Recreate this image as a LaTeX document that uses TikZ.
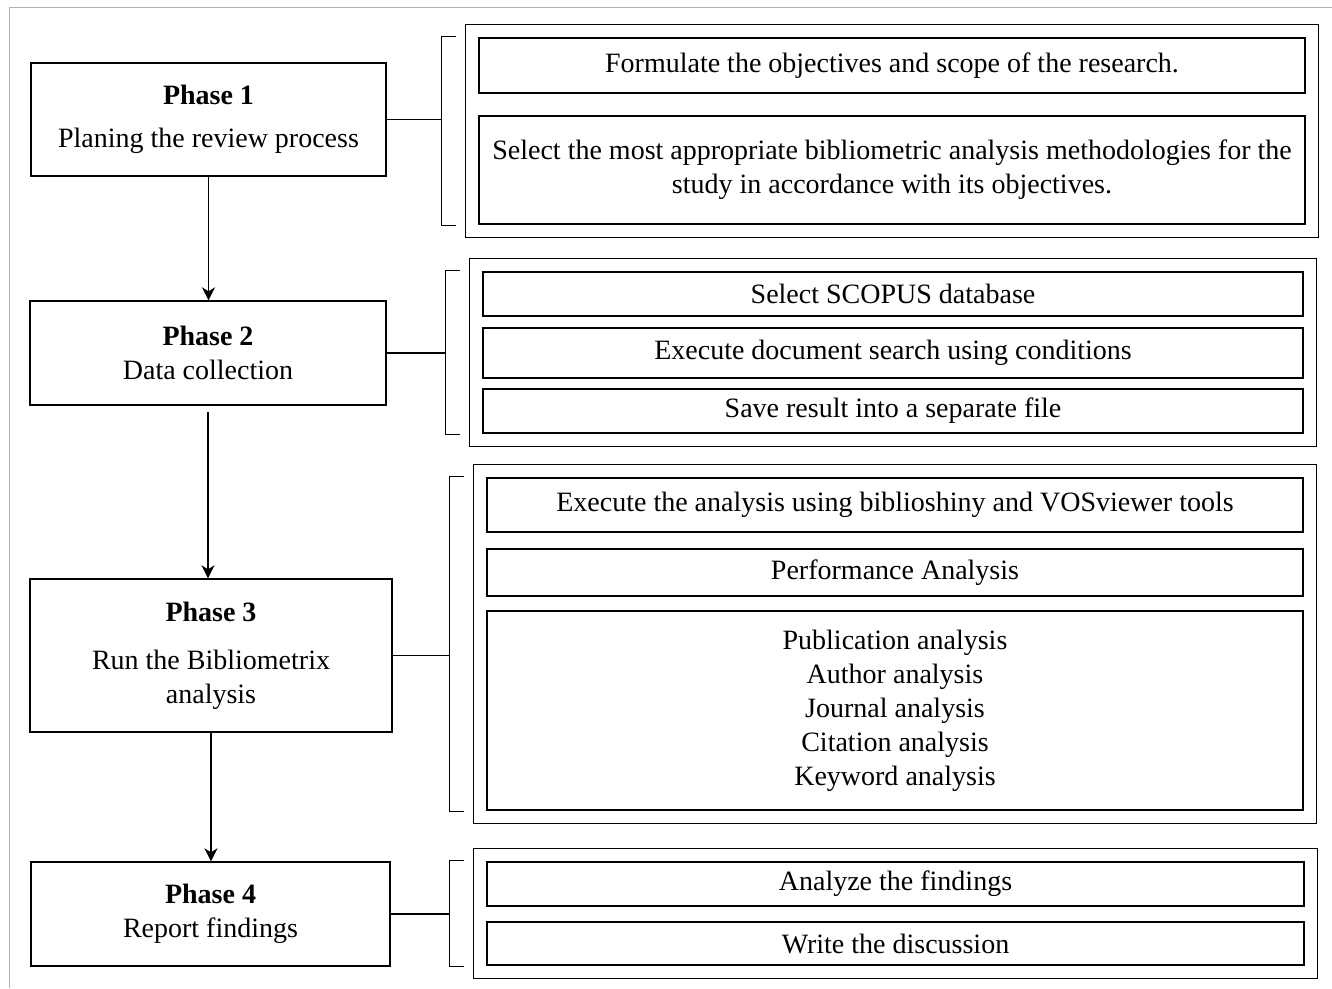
\documentclass[tikz,border=0pt]{standalone}
\usepackage{fontspec}
\setmainfont{Liberation Serif}
\usetikzlibrary{arrows.meta, positioning, calc, fit}
\newcommand{\grouplink}[2]
{
	\draw ($(#2.north west)+(-9,13)$) -| ($(#2.south west)+(-23,-13)$) -- +(14,0);
	\draw (#1.east) -- ($(#1.east -| #2.west)+(-23,0)$)
}

\begin{document}
\begin{tikzpicture}[x=1pt, y=-1pt, line width=1.4pt, every node/.append style={font=\fontsize{28}{34}\selectfont, align=center},
	phase/.style={draw, inner sep=0pt},
	item/.style={draw, inner sep=0pt},
	frame/.style={draw, inner sep=13pt}]
	\useasboundingbox (0,0) rectangle (1332,988);
	\draw[gray!60, line width=1pt] (9,988) -- (9,7) -- (1332,7);
	\node[phase, minimum width=355, minimum height=113] at (208.5,119.5) (p1) {\textbf{Phase 1}\\[9pt]Planing the review process};
	\node[phase, minimum width=356, minimum height=104] at (208,353) (p2) {\textbf{Phase 2}\\Data collection};
	\node[phase, minimum width=362, minimum height=153] at (211,655.5) (p3) {\textbf{Phase 3}\\[14pt]Run the Bibliometrix\\analysis};
	\node[phase, minimum width=359, minimum height=104] at (210.5,914) (p4) {\textbf{Phase 4}\\Report findings};
		\node[item, minimum width=826, minimum height=55] at (892,65.5) (a1) {Formulate the objectives and scope of the research.};
		\node[item, minimum width=826, minimum height=108] at (892,170) (a2) {Select the most appropriate bibliometric analysis methodologies for the\\study in accordance with its objectives.};
		\node[item, minimum width=820, minimum height=44] at (893,294) (b1) {Select SCOPUS database};
		\node[item, minimum width=820, minimum height=50] at (893,353) (b2) {Execute document search using conditions};
		\node[item, minimum width=820, minimum height=44] at (893,411) (b3) {Save result into a separate file};
		\node[item, minimum width=816, minimum height=54] at (895,505) (c1) {Execute the analysis using biblioshiny and VOSviewer tools};
		\node[item, minimum width=816, minimum height=47] at (895,572.5) (c2) {Performance Analysis};
		\node[item, minimum width=816, minimum height=199] at (895,710.5) (c3) {Publication analysis\\Author analysis\\Journal analysis\\Citation analysis\\Keyword analysis};
		\node[item, minimum width=817, minimum height=44] at (895.5,884) (d1) {Analyze the findings};
		\node[item, minimum width=817, minimum height=43] at (895.5,943.5) (d2) {Write the discussion};
		\node[frame, fit=(a1)(a2)] (g1) {};
		\node[frame, fit=(b1)(b3)] (g2) {};
		\node[frame, fit=(c1)(c3)] (g3) {};
		\node[frame, fit=(d1)(d2)] (g4) {};
		\foreach \x in {1,...,4}
			\grouplink{p\x}{g\x};
		\foreach \a/\b/\s in {p1/p2/0, p2/p3/6, p3/p4/0}
			\draw[-{Stealth[length=13pt, width=13pt, inset=4pt]}, shorten <=\s pt] (\a.south) -- (\a.south |- \b.north);
	\end{tikzpicture}
\end{document}
